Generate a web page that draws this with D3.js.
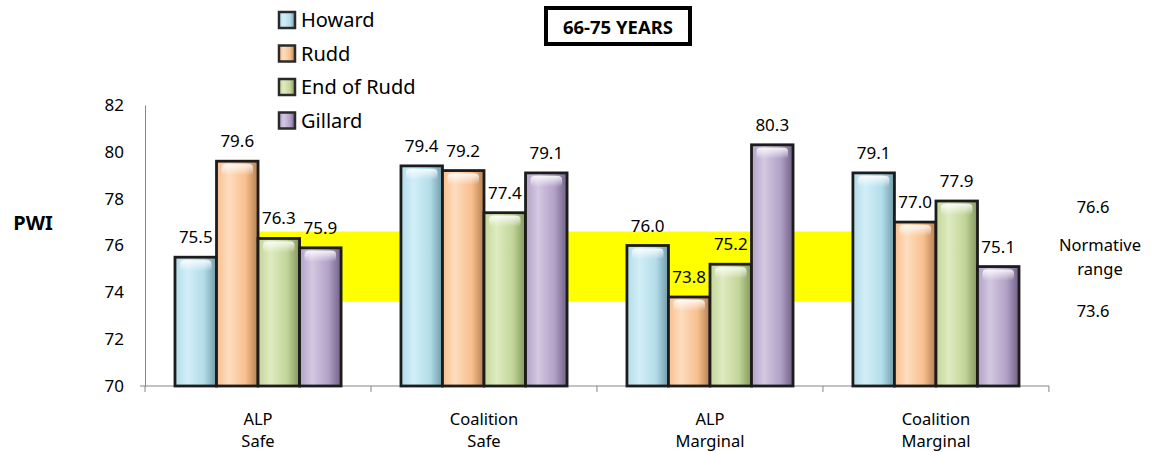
<!DOCTYPE html>
<html>
<head>
<meta charset="utf-8">
<script src="https://cdn.jsdelivr.net/npm/d3@7"></script>
<style>
  body { margin: 0; background: #fff; }
  text { font-family: "Noto Sans", "Open Sans", sans-serif; fill: #000; }
</style>
</head>
<body>
<div id="chart"></div>
<script>
// categories and series
var categories = [["ALP", "Safe"], ["Coalition", "Safe"], ["ALP", "Marginal"], ["Coalition", "Marginal"]];
var seriesNames = ["Howard", "Rudd", "End of Rudd", "Gillard"];
var howard    = [75.5, 79.4, 76.0, 79.1];
var rudd      = [79.6, 79.2, 73.8, 77.0];
var endOfRudd = [76.3, 77.4, 75.2, 77.9];
var gillard   = [75.9, 79.1, 80.3, 75.1];
var yTicks = [70, 72, 74, 76, 78, 80, 82];
var normHigh = 76.6, normLow = 73.6;

var seriesColors = [
  { light: "#d2eef7", mid: "#b3dce9", dark: "#6f9aa8" },
  { light: "#fdddbf", mid: "#f9bf8d", dark: "#b57e52" },
  { light: "#dfebc0", mid: "#c2d598", dark: "#83975c" },
  { light: "#d3c8e2", mid: "#b2a1c6", dark: "#706086" }
];

var values = [howard, rudd, endOfRudd, gillard];
var width = 1157, height = 452;

var svg = d3.select("#chart").append("svg")
  .attr("width", width)
  .attr("height", height);

var defs = svg.append("defs");
seriesColors.forEach(function(c, i) {
  var g = defs.append("linearGradient").attr("id", "bar" + i)
    .attr("x1", 0).attr("x2", 1).attr("y1", 0).attr("y2", 0);
  g.append("stop").attr("offset", "0%").attr("stop-color", c.mid);
  g.append("stop").attr("offset", "30%").attr("stop-color", c.light);
  g.append("stop").attr("offset", "70%").attr("stop-color", c.mid);
  g.append("stop").attr("offset", "100%").attr("stop-color", c.dark);
  var h = defs.append("linearGradient").attr("id", "top" + i)
    .attr("x1", 0).attr("x2", 0).attr("y1", 0).attr("y2", 1);
  h.append("stop").attr("offset", "0%").attr("stop-color", "#fff").attr("stop-opacity", 0.85);
  h.append("stop").attr("offset", "100%").attr("stop-color", "#fff").attr("stop-opacity", 0);
});

var x0 = d3.scaleBand()
  .domain(d3.range(categories.length))
  .range([145, 1049])
  .paddingInner(0.265)
  .paddingOuter(0.1327);

var x1 = d3.scaleBand()
  .domain(d3.range(seriesNames.length))
  .range([0, x0.bandwidth()]);

var y = d3.scaleLinear().domain([70, 82]).range([386, 105]);

// normative band (yellow), behind the bars
var bandX0 = x0(0) + x1(1) + x1.bandwidth() / 2;
var bandX1 = x0(3) + x1(0) + x1.bandwidth() / 2;
svg.append("rect")
  .attr("x", bandX0)
  .attr("y", y(normHigh))
  .attr("width", bandX1 - bandX0)
  .attr("height", y(normLow) - y(normHigh))
  .attr("fill", "#ffff00");

// y axis
var yAxis = svg.append("g")
  .attr("transform", "translate(145,0)")
  .call(d3.axisLeft(y).tickValues(yTicks).tickSize(0).tickPadding(21).tickFormat(d3.format("d")));
yAxis.select(".domain").attr("stroke", "#868686");
yAxis.selectAll("text").style("font-size", "17px").style("font-family", "'Noto Sans', sans-serif");

// x axis
var xAxis = svg.append("g").attr("transform", "translate(0," + y(70) + ")");
xAxis.append("line")
  .attr("x1", 140).attr("x2", 1049)
  .attr("stroke", "#868686");
var boundaries = d3.range(categories.length + 1).map(function(i) {
  return 145 + i * x0.step();
});
xAxis.selectAll(".tk").data(boundaries).enter().append("line")
  .attr("x1", function(d) { return d; }).attr("x2", function(d) { return d; })
  .attr("y1", 0).attr("y2", 6)
  .attr("stroke", "#868686");

// bars
var groups = svg.selectAll(".grp").data(categories).enter().append("g")
  .attr("transform", function(d, i) { return "translate(" + x0(i) + ",0)"; });

groups.each(function(cat, ci) {
  var g = d3.select(this);
  seriesNames.forEach(function(s, si) {
    var v = values[si][ci];
    var bx = x1(si), bw = x1.bandwidth();
    g.append("rect")
      .attr("x", bx)
      .attr("y", y(v))
      .attr("width", bw)
      .attr("height", y(70) - y(v))
      .attr("fill", "url(#bar" + si + ")")
      .attr("stroke", "#1c1c1c")
      .attr("stroke-width", 2.8);
    g.append("rect")
      .attr("x", bx + 5)
      .attr("y", y(v) + 3)
      .attr("width", bw - 10)
      .attr("height", 11)
      .attr("rx", 4)
      .attr("fill", "url(#top" + si + ")");
    g.append("text")
      .attr("x", bx + bw / 2)
      .attr("y", y(v) - 14)
      .attr("text-anchor", "middle")
      .style("font-size", "17px")
      .text(v.toFixed(1));
  });
  // category label
  var t = g.append("text")
    .attr("x", x0.bandwidth() / 2)
    .attr("y", 425)
    .attr("text-anchor", "middle")
    .style("font-size", "16.5px");
  t.append("tspan").attr("x", x0.bandwidth() / 2).attr("dy", 0).text(cat[0]);
  t.append("tspan").attr("x", x0.bandwidth() / 2).attr("dy", 22).text(cat[1]);
});

// PWI
svg.append("text")
  .attr("x", 33).attr("y", 230)
  .attr("text-anchor", "middle")
  .style("font-size", "20px").style("font-weight", "bold")
  .text("PWI");

// legend
var legend = svg.append("g");
seriesNames.forEach(function(s, i) {
  var ly = 20 + i * 33.5;
  legend.append("rect")
    .attr("x", 279).attr("y", ly - 8)
    .attr("width", 16).attr("height", 16)
    .attr("fill", "url(#bar" + i + ")")
    .attr("stroke", "#2a2a2a").attr("stroke-width", 2.5);
  legend.append("text")
    .attr("x", 301).attr("y", ly + 7)
    .style("font-size", "20px")
    .text(s);
});

// title box
svg.append("rect")
  .attr("x", 546).attr("y", 8)
  .attr("width", 144).attr("height", 36)
  .attr("fill", "#fff")
  .attr("stroke", "#000").attr("stroke-width", 4);
svg.append("text")
  .attr("x", 618).attr("y", 34)
  .attr("text-anchor", "middle")
  .style("font-size", "18.5px").style("font-weight", "bold")
  .text("66-75 YEARS");

// normative range annotation
var ann = svg.append("g").style("font-size", "16.5px");
ann.append("text").attr("x", 1093).attr("y", 213).attr("text-anchor", "middle").text(normHigh.toFixed(1));
ann.append("text").attr("x", 1100).attr("y", 251).attr("text-anchor", "middle").text("Normative");
ann.append("text").attr("x", 1100).attr("y", 275).attr("text-anchor", "middle").text("range");
ann.append("text").attr("x", 1093).attr("y", 317).attr("text-anchor", "middle").text(normLow.toFixed(1));
</script>
</body>
</html>
